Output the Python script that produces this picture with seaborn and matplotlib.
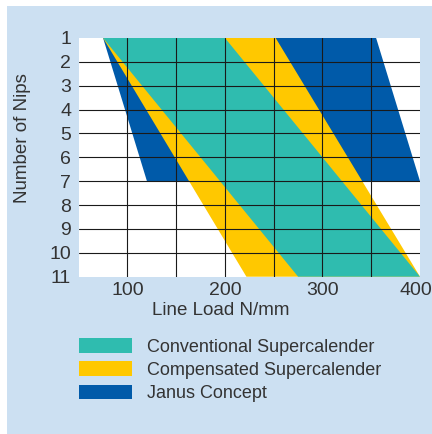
import matplotlib
matplotlib.use("Agg")
import matplotlib.pyplot as plt
from matplotlib.patches import Patch, Rectangle
from matplotlib.transforms import ScaledTranslation
from matplotlib import font_manager
import seaborn as sns
import pandas as pd

# Operating windows: line load range at the first and last nip of each concept
series = ["Conventional Supercalender", "Compensated Supercalender", "Janus Concept"]
colors = ["#2fbcaf", "#ffc800", "#005aa9"]
nip_first = [1, 1, 1]
nip_last = [11, 11, 7]
load_low_first = [75, 75, 75]
load_high_first = [200, 252, 355]
load_low_last = [275, 222, 120]
load_high_last = [400, 400, 400]

nip_ticks = list(range(1, 12))
load_ticks = [100, 200, 300, 400]
load_minor = [150, 250, 350]

df = pd.DataFrame({
    "series": series, "color": colors,
    "nip_first": nip_first, "nip_last": nip_last,
    "low_first": load_low_first, "high_first": load_high_first,
    "low_last": load_low_last, "high_last": load_high_last,
})

sns.set_theme(style="white")
installed = {f.name for f in font_manager.fontManager.ttflist}
base_font = "Liberation Sans Narrow" if "Liberation Sans Narrow" in installed else "Liberation Sans"
plt.rcParams["font.family"] = [base_font, "DejaVu Sans"]
text_color = "#333333"

fig = plt.figure(figsize=(4.32, 4.34), dpi=100, facecolor="white")
fig.patches.append(Rectangle((7 / 432, 0), 1 - 7 / 432, 1 - 6 / 434,
                             transform=fig.transFigure, facecolor="#cce0f2",
                             edgecolor="none", zorder=-10))

ax = fig.add_axes([78.7 / 432, 1 - 276.7 / 434, 341.3 / 432, 238.7 / 434])
ax.set_facecolor("white")

# Lowest layer first so the conventional window sits on top
for _, row in df.iloc[::-1].iterrows():
    xs = [row.low_first, row.high_first, row.high_last, row.low_last]
    ys = [row.nip_first, row.nip_first, row.nip_last, row.nip_last]
    ax.fill(xs, ys, color=row.color, linewidth=0, zorder=1)

ax.set_xlim(50, 400)
ax.set_ylim(11, 1)
ax.set_xticks(load_ticks)
ax.set_xticks(load_minor, minor=True)
ax.set_yticks(nip_ticks)
ax.tick_params(axis="both", which="both", length=0, labelsize=14, colors=text_color)
ax.tick_params(axis="x", pad=4)
ax.tick_params(axis="y", pad=5.5)

ax.set_axisbelow(False)
ax.grid(True, which="both", axis="x", color="#1a1a1a", linewidth=0.8, zorder=3)
ax.grid(True, which="major", axis="y", color="#1a1a1a", linewidth=0.8, zorder=3)
ax.xaxis.get_gridlines()[-1].set_visible(False)
ygl = ax.yaxis.get_gridlines()
ygl[0].set_visible(False)
ygl[-1].set_visible(False)
for s in ax.spines.values():
    s.set_visible(False)

# keep the last load label inside the panel
last = ax.get_xticklabels()[-1]
last.set_transform(last.get_transform() + ScaledTranslation(-4 / 100, 0, fig.dpi_scale_trans))

ax.set_xlabel("Line Load N/mm", fontsize=13.5, color=text_color)
ax.set_ylabel("Number of Nips", fontsize=13.5, color=text_color)
ax.xaxis.set_label_coords(0.417, -0.105)
ax.yaxis.set_label_coords(-0.14, 0.581)

handles = [Patch(facecolor=c, edgecolor="none", label=s) for s, c in zip(series, colors)]
fs = 13
fig.legend(handles=handles, loc="upper left",
           bbox_to_anchor=(79 / 432, 1 - 338 / 434), bbox_transform=fig.transFigure,
           frameon=False, fontsize=fs, labelcolor=text_color,
           handlelength=2.92, handleheight=0.87, handletextpad=0.83,
           labelspacing=0.32, borderpad=0, borderaxespad=0)

fig.savefig("out.png", dpi=100, facecolor=fig.get_facecolor())
